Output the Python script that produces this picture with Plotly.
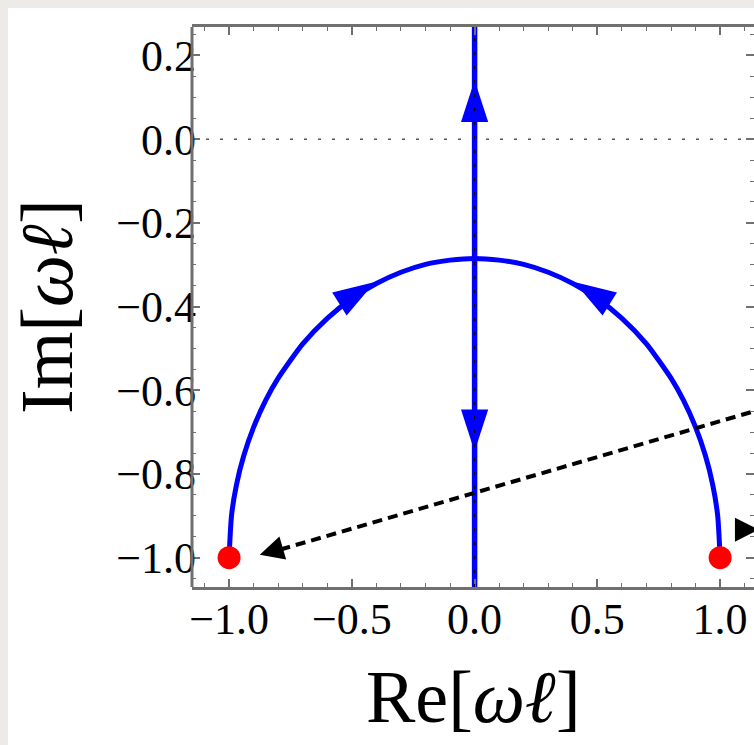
import plotly.graph_objects as go

# ---- data ----
arc_re = [-1.0, -0.99, -0.97, -0.94, -0.9, -0.85, -0.8, -0.7, -0.6, -0.5, -0.4, -0.3, -0.2, -0.1, 0.0,
          0.1, 0.2, 0.3, 0.4, 0.5, 0.6, 0.7, 0.8, 0.85, 0.9, 0.94, 0.97, 0.99, 1.0]
arc_im = [-1.0, -0.899, -0.826, -0.756, -0.688, -0.623, -0.571, -0.489, -0.428, -0.381, -0.345, -0.318, -0.299, -0.289, -0.285,
          -0.289, -0.299, -0.318, -0.345, -0.381, -0.428, -0.489, -0.571, -0.623, -0.688, -0.756, -0.826, -0.899, -1.0]

imag_axis_re = [0.0, 0.0]
imag_axis_im = [-1.1, 0.3]

dot_re = [-1.0, 1.0]
dot_im = [-1.0, -1.0]

flow_arrow_re = [0.0, 0.0, -0.406, 0.406]
flow_arrow_im = [0.141, -0.746, -0.341, -0.341]
flow_arrow_angle = [0, 180, 58, -58]

dashed_re = [1.25, -0.80]
dashed_im = [-0.631, -0.982]

black_head_re = [-0.875, 1.158]
black_head_im = [-0.993, -0.933]
black_head_angle = [253.7, 90]

x_ticks = [-1.0, -0.5, 0.0, 0.5, 1.0]
x_tick_labels = ["\u22121.0", "\u22120.5", "0.0", "0.5", "1.0"]
y_ticks = [-1.0, -0.8, -0.6, -0.4, -0.2, 0.0, 0.2]
y_tick_labels = ["\u22121.0", "\u22120.8", "\u22120.6", "\u22120.4", "\u22120.2", "0.0", "0.2"]

x_range = [-1.151, 1.138]
y_range = [-1.070, 0.268]

BLUE = "#0000ff"
FRAME = "#707070"
FONT = "Liberation Serif"

fig = go.Figure()

fig.add_trace(go.Scatter(x=imag_axis_re, y=imag_axis_im, mode="lines",
                         line=dict(color=BLUE, width=5.5), hoverinfo="skip"))
fig.add_trace(go.Scatter(x=arc_re, y=arc_im, mode="lines",
                         line=dict(color=BLUE, width=5, shape="spline", smoothing=0.6), hoverinfo="skip"))
fig.add_trace(go.Scatter(x=flow_arrow_re, y=flow_arrow_im, mode="markers",
                         marker=dict(symbol="arrow", size=44, angle=flow_arrow_angle, color=BLUE,
                                     line=dict(width=0)), hoverinfo="skip"))
fig.add_trace(go.Scatter(x=dashed_re, y=dashed_im, mode="lines",
                         line=dict(color="black", width=4, dash="10px,6px"), hoverinfo="skip"))
fig.add_trace(go.Scatter(x=black_head_re, y=black_head_im, mode="markers",
                         marker=dict(symbol="arrow-up", size=24, angle=black_head_angle, color="black",
                                     line=dict(width=0)), hoverinfo="skip"))
fig.add_trace(go.Scatter(x=dot_re, y=dot_im, mode="markers",
                         marker=dict(size=23, color="#ff0000", line=dict(width=0)), hoverinfo="skip"))

shapes = [
    # white card behind the plot (textured grey page around it)
    dict(type="rect", xref="paper", yref="paper", x0=-0.3274, x1=1.05, y0=-0.30, y1=1.0339,
         fillcolor="white", line=dict(width=0), layer="below"),
    # dotted zero line
    dict(type="line", xref="paper", yref="y", x0=0, x1=1, y0=0, y1=0,
         line=dict(color="black", width=1, dash="3px,11px"), layer="below"),
    # dotted imaginary axis drawn over the blue line
    dict(type="line", xref="x", yref="paper", x0=0, x1=0, y0=0, y1=1,
         line=dict(color="black", width=1, dash="3px,11px"), layer="above"),
    # left frame line
    dict(type="line", xref="paper", yref="paper", x0=0, x1=0, y0=0, y1=1,
         line=dict(color=FRAME, width=3), layer="above"),
]

fig.update_layout(
    width=754, height=745,
    margin=dict(l=192, r=0, t=27, b=158),
    paper_bgcolor="#ecebe8",
    plot_bgcolor="white",
    showlegend=False,
    shapes=shapes,
    font=dict(family=FONT, color="black"),
    annotations=[
        dict(text="Re[<i>\u03c9\u2113</i>]", xref="paper", yref="paper", x=0.5, y=0,
             xanchor="center", yanchor="middle", yshift=-110, showarrow=False,
             font=dict(family=FONT, size=74, color="black")),
        dict(text="Im[<i>\u03c9\u2113</i>]", xref="paper", yref="paper", x=0, y=0.5,
             xanchor="center", yanchor="middle", xshift=-145, showarrow=False, textangle=-90,
             font=dict(family=FONT, size=74, color="black")),
    ],
)

fig.update_xaxes(range=x_range, tickvals=x_ticks, ticktext=x_tick_labels,
                 ticks="inside", ticklen=8, tickwidth=1.5, tickcolor=FRAME,
                 minor=dict(dtick=0.1, tick0=0, ticks="inside", ticklen=4, tickwidth=1.2, tickcolor=FRAME),
                 showline=True, linecolor=FRAME, linewidth=3, mirror="ticks",
                 showgrid=False, zeroline=False, tickfont=dict(family=FONT, size=44, color="black"),
                 ticklabelstandoff=-9, fixedrange=True)
fig.update_yaxes(range=y_range, tickvals=y_ticks, ticktext=y_tick_labels,
                 ticks="inside", ticklen=8, tickwidth=1.5, tickcolor=FRAME,
                 minor=dict(dtick=0.05, tick0=0, ticks="inside", ticklen=4, tickwidth=1.2, tickcolor=FRAME),
                 showline=False, mirror="ticks",
                 showgrid=False, zeroline=False, tickfont=dict(family=FONT, size=44, color="black"),
                 ticklabelstandoff=-5, fixedrange=True)

fig.write_html("out.html", config={"displayModeBar": False},
               post_script="document.body.style.margin='0';document.body.style.overflow='hidden';")
